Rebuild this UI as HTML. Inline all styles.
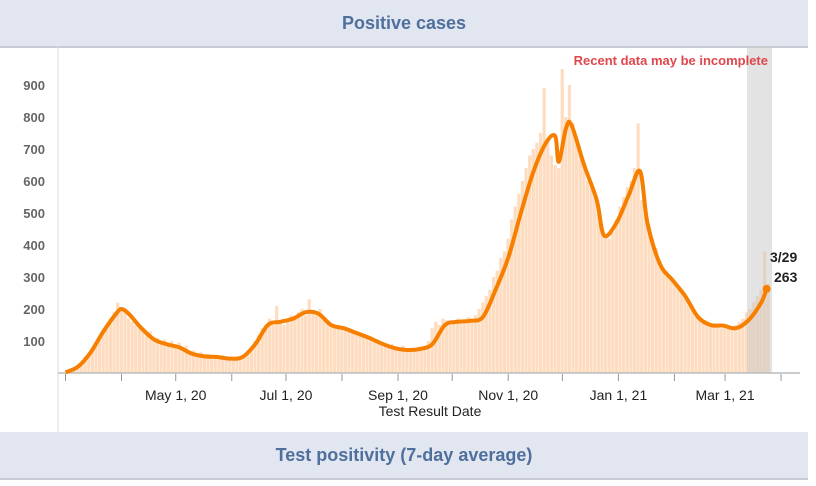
<!DOCTYPE html>
<html><head><meta charset="utf-8"><style>
body{margin:0;background:#fff;width:816px;height:486px;overflow:hidden;font-family:"Liberation Sans",sans-serif}
.band{position:absolute;left:0;width:808px;height:46px;background:#e1e6f1;color:#4f6f9c;font-weight:bold;font-size:18px;text-align:center;line-height:46px}
</style></head><body>
<div class="band" style="top:0;border-bottom:2px solid #c8ccd4">Positive cases</div>
<svg id="chart" width="816" height="486" style="position:absolute;left:0;top:0"></svg>
<div class="band" style="top:432px;border-bottom:2px solid #c8ccd4">Test positivity (7-day average)</div>
<script>
const barValues=[5,10,15,25,35,50,60,70,90,110,130,150,170,190,220,200,190,170,160,150,140,140,120,130,100,110,95,105,90,100,85,95,80,85,70,70,60,65,55,60,50,55,45,55,50,40,45,50,40,55,60,80,100,120,140,150,170,150,210,160,150,165,180,170,190,200,180,230,190,180,200,170,160,150,140,150,145,140,135,130,125,120,115,110,115,100,105,95,90,85,90,80,75,85,70,75,70,80,75,85,100,140,160,150,170,165,150,160,170,155,165,175,170,180,200,220,240,260,300,320,360,380,420,480,520,560,600,640,680,700,720,750,890,720,680,650,640,950,800,900,780,720,680,650,600,580,550,500,460,430,420,440,480,520,550,580,600,640,780,540,500,460,420,390,350,330,320,300,290,270,260,240,220,200,180,170,160,150,155,145,150,140,150,140,145,150,160,170,190,200,220,240,260,380,280];
const barDays=barValues.map((v,i)=>i*2);
const lineDays=[0,7,14,21,28,31,35,42,49,56,63,70,77,84,91,98,105,112,119,126,133,140,147,154,161,168,175,182,189,196,203,210,217,224,231,238,245,252,259,266,271,273,277,280,287,294,298,305,312,318,322,329,336,343,350,357,364,371,378,385,388];
const lineValues=[2,20,65,130,185,200,185,140,105,90,80,60,52,50,45,50,90,150,160,170,190,185,150,140,125,110,92,78,72,75,90,150,160,163,175,260,360,500,630,720,740,660,765,775,650,540,430,470,560,630,470,340,290,240,175,150,148,140,165,220,263];
const yTicks=[100,200,300,400,500,600,700,800,900];
const xTickLabels=["May 1, 20","Jul 1, 20","Sep 1, 20","Nov 1, 20","Jan 1, 21","Mar 1, 21"];
const xTickLabelDays=[61,122,184,245,306,365];
const monthTickDays=[0,31,61,92,122,153,184,214,245,275,306,337,365,396];
const NS="http://www.w3.org/2000/svg";
const svg=document.getElementById('chart');
const X=d=>65.5+d*1.807;
const Y=v=>373-v*0.32;
function el(t,a){const e=document.createElementNS(NS,t);for(const k in a)e.setAttribute(k,a[k]);svg.appendChild(e);return e;}
const frame=el('line',{x1:58,y1:46,x2:58,y2:432,stroke:'#ddd','stroke-width':1});


barValues.forEach((v,i)=>{const r=el('rect',{x:X(barDays[i]),y:Y(v),width:3.2,height:373-Y(v),fill:'#fddcbf'});

});
const band=el('rect',{x:747,y:46,width:25,height:327,fill:'rgba(200,200,200,0.5)'});


const base=el('line',{x1:58,y1:373,x2:800,y2:373,stroke:'#bbb','stroke-width':1.5});


monthTickDays.forEach(d=>{const t=el('line',{x1:X(d),y1:374,x2:X(d),y2:381,stroke:'#999','stroke-width':1});

});
xTickLabels.forEach((s,i)=>{const t=el('text',{x:X(xTickLabelDays[i]),y:400,'text-anchor':'middle','font-size':14,fill:'#222'});t.textContent=s;

});
yTicks.forEach(v=>{const t=el('text',{x:45,y:Y(v)+5,'text-anchor':'end','font-size':13,'font-weight':'bold',fill:'#666'});t.textContent=v;

});
const xt=el('text',{x:430,y:416,'text-anchor':'middle','font-size':14,fill:'#222'});xt.textContent='Test Result Date';


let pts=lineDays.map((d,i)=>[X(d),Y(lineValues[i])]);
let p='M'+pts[0];
for(let i=0;i<pts.length-1;i++){const p0=pts[i-1]||pts[i],p1=pts[i],p2=pts[i+1],p3=pts[i+2]||p2;
p+=` C${p1[0]+(p2[0]-p0[0])/6},${p1[1]+(p2[1]-p0[1])/6} ${p2[0]-(p3[0]-p1[0])/6},${p2[1]-(p3[1]-p1[1])/6} ${p2[0]},${p2[1]}`;}
const line=el('path',{d:p,fill:'none',stroke:'#f77f00','stroke-width':4,'stroke-linejoin':'round'});


const last=pts[pts.length-1];
const dot=el('circle',{cx:last[0],cy:last[1],r:4,fill:'#f77f00'});


const a1=el('text',{x:770,y:262,'font-size':14,'font-weight':'bold',fill:'#222'});a1.textContent='3/29';


const a2=el('text',{x:774,y:282,'font-size':14,'font-weight':'bold',fill:'#222'});a2.textContent=lineValues[lineValues.length-1];


const note=el('text',{x:768,y:65,'text-anchor':'end','font-size':13,'font-weight':'bold',fill:'#e0474c'});note.textContent='Recent data may be incomplete';


</script>
</body></html>
